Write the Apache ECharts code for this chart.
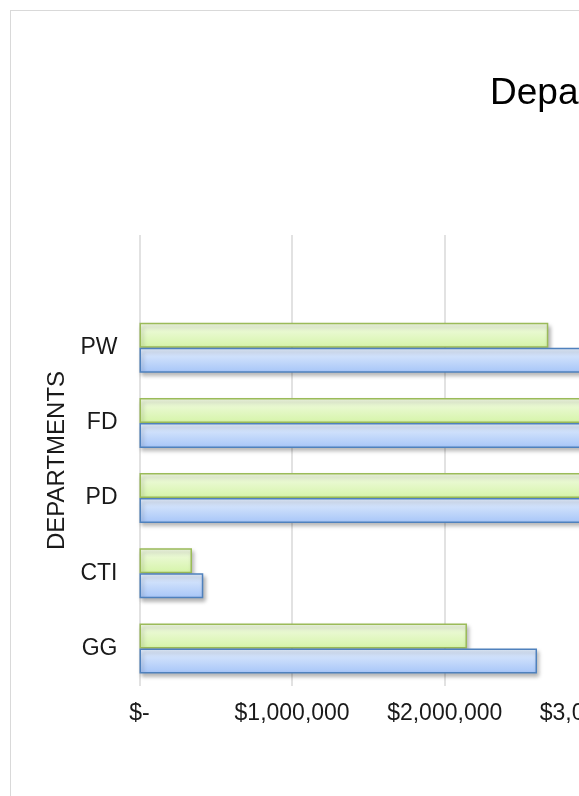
<!DOCTYPE html>
<html>
<head>
<meta charset="utf-8">
<script src="https://cdn.jsdelivr.net/npm/echarts@6/dist/echarts.min.js"></script>
<style>
html, body { margin:0; padding:0; overflow:hidden; background:#fff; width:579px; height:796px; }
#frame { position:absolute; left:10px; top:10px; width:1280px; height:900px; border:1px solid #d9d9d9; box-sizing:border-box; }
#chart { position:absolute; left:0; top:0; width:1300px; height:796px; }
</style>
</head>
<body>
<div id="frame"></div>
<div id="chart"></div>
<script>
// Data (bars extending beyond the visible area are estimates)
const categories = ['GG', 'CTI', 'PD', 'FD', 'PW', ''];
const actualValues = [2146000, 344000, 4200000, 3600000, 2679000, null];
const budgetValues = [2605000, 418000, 4500000, 3900000, 3200000, null];
const seriesNames = ['Actual', 'Budget'];
const titleText = 'Department Budgets';
const yAxisTitle = 'DEPARTMENTS';
const xTicks = { min: 0, max: 5000000, interval: 1000000 };

const FONT = '"Liberation Sans", Arial, sans-serif';

function money(v) {
  if (v === 0) return '$-';
  return '$' + v.toLocaleString('en-US');
}

const chart = echarts.init(document.getElementById('chart'), null, { renderer: 'canvas' });
chart.setOption({
  backgroundColor: 'transparent',
  animation: false,
  title: {
    text: titleText,
    left: 490,
    top: 75,
    padding: 0,
    textStyle: { fontFamily: FONT, fontSize: 37, fontWeight: 'normal', color: '#000' }
  },
  legend: {
    left: 1100,
    top: 'middle',
    orient: 'vertical',
    data: [seriesNames[1], seriesNames[0]],
    textStyle: { fontFamily: FONT, fontSize: 20, color: '#000' }
  },
  grid: {
    left: 139.5,
    top: 235,
    width: 763,
    height: 451,
    containLabel: false
  },
  xAxis: {
    type: 'value',
    min: xTicks.min,
    max: xTicks.max,
    interval: xTicks.interval,
    axisLine: { show: false },
    axisTick: { show: false },
    splitLine: { show: true, lineStyle: { color: '#d9d9d9', width: 1.5 } },
    axisLabel: {
      formatter: money,
      fontFamily: FONT,
      fontSize: 23,
      color: '#1a1a1a',
      margin: 16
    }
  },
  yAxis: {
    type: 'category',
    data: categories,
    name: yAxisTitle,
    nameLocation: 'middle',
    nameGap: 68,
    nameTextStyle: { fontFamily: FONT, fontSize: 24, color: '#1a1a1a' },
    axisLine: { show: false },
    axisTick: { show: false },
    axisLabel: { fontFamily: FONT, fontSize: 23, color: '#1a1a1a', margin: 22 }
  },
  series: [
    {
      name: seriesNames[0],
      type: 'bar',
      data: actualValues,
      barWidth: 25,
      barGap: '0%',
      itemStyle: {
        color: new echarts.graphic.LinearGradient(0, 0, 0, 1, [
          { offset: 0, color: '#f3fbe6' },
          { offset: 1, color: '#d5f4a8' }
        ]),
        borderColor: '#9bbb59',
        borderWidth: 1.5,
        shadowColor: 'rgba(0,0,0,0.28)',
        shadowBlur: 4,
        shadowOffsetX: 2,
        shadowOffsetY: 3
      }
    },
    {
      name: seriesNames[1],
      type: 'bar',
      data: budgetValues,
      barWidth: 25,
      barGap: '0%',
      itemStyle: {
        color: new echarts.graphic.LinearGradient(0, 0, 0, 1, [
          { offset: 0, color: '#e5effd' },
          { offset: 1, color: '#a6c5f8' }
        ]),
        borderColor: '#4f81bd',
        borderWidth: 1.5,
        shadowColor: 'rgba(0,0,0,0.28)',
        shadowBlur: 4,
        shadowOffsetX: 2,
        shadowOffsetY: 3
      }
    }
  ]
});
</script>
</body>
</html>
